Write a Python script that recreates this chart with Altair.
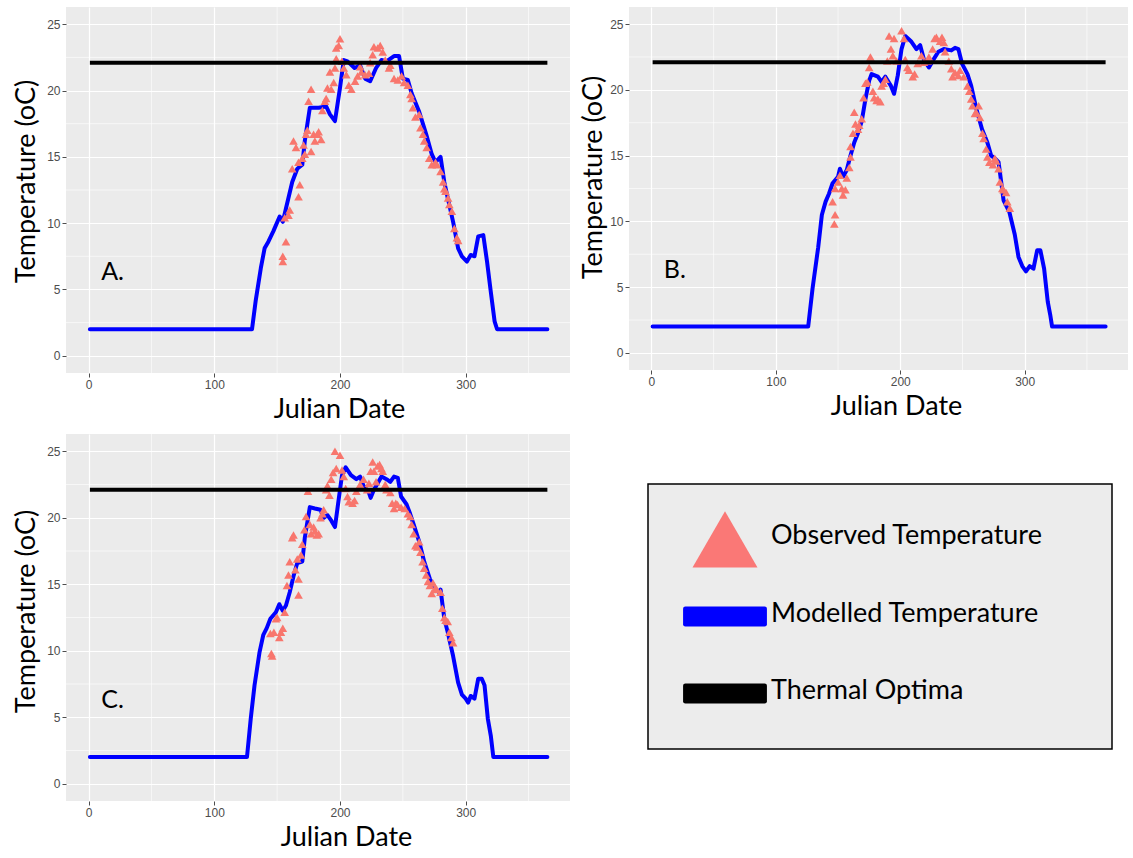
import altair as alt
import pandas as pd

# ---------------- data ----------------
# Modelled temperature (day, degC) vertices for each panel
A_MODEL = [(1, 2.0), (130, 2.0), (133, 4.2), (137, 6.6), (140, 8.1), (143, 8.6), (147, 9.4),
           (152, 10.5), (154.5, 10.1), (157, 11.1), (162, 13.1), (166, 14.1), (170, 14.4),
           (172, 16.2), (176, 18.7), (183, 18.7), (189, 18.8), (192, 18.2), (196, 17.7),
           (200, 20.2), (203, 22.3), (206, 22.2), (211.6, 21.7), (216, 21.9), (220, 20.9),
           (224, 20.7), (228.7, 21.7), (233, 22.3), (237, 22.2), (243, 22.6), (247, 22.6),
           (250, 20.9), (254, 20.8), (257, 19.8), (263, 18.4), (268.6, 16.7), (273, 15.2),
           (276, 14.6), (280, 15.0), (283, 13.1), (285.7, 11.9), (290, 10.1), (294, 8.1),
           (297, 7.5), (301, 7.1), (304, 7.6), (307, 7.5), (310, 9.0), (314, 9.1), (317, 7.1),
           (320, 4.8), (323, 2.6), (325, 2.0), (365, 2.0)]
B_MODEL = [(1, 2.0), (126, 2.0), (129.5, 4.9), (134, 8.0), (137, 10.5), (140, 11.5), (142.7, 12.1),
           (145.6, 12.9), (150, 13.4), (151.5, 14.0), (154, 13.4), (157, 13.9), (160, 15.0),
           (163, 16.0), (166, 16.7), (169, 17.6), (172, 19.3), (175, 20.7), (177, 21.2),
           (182, 21.0), (185, 20.6), (188, 21.0), (192.5, 20.3), (195, 19.7), (198, 21.1),
           (201, 23.1), (204, 24.1), (208.6, 23.7), (213, 23.1), (216, 23.4), (219, 22.3),
           (223, 21.7), (226, 22.2), (230.6, 22.9), (235, 23.1), (241, 23.0), (244, 23.2),
           (246.7, 23.1), (249.6, 22.0), (254, 21.2), (257, 20.3), (261, 18.6), (265.7, 17.0),
           (270, 16.0), (273, 15.0), (276, 14.8), (279, 14.5), (280, 13.8), (283, 11.6),
           (287.7, 10.7), (292, 9.0), (295, 7.3), (298, 6.6), (301, 6.2), (304, 6.6), (307, 6.4),
           (310, 7.8), (312.6, 7.8), (315.6, 6.4), (318.5, 3.9), (320.5, 2.9), (322, 2.0), (365, 2.0)]
C_MODEL = [(1, 2.0), (126, 2.0), (129, 4.9), (132, 7.4), (136, 9.9), (139, 11.2), (141.7, 11.7),
           (144.6, 12.4), (149, 12.9), (151.7, 13.5), (154.5, 13.0), (157, 13.4), (160, 14.4),
           (163, 15.6), (166, 16.6), (170, 16.7), (172, 18.5), (176, 20.8), (180, 20.7),
           (184.5, 20.6), (187, 20.0), (190, 20.2), (193, 19.8), (196, 19.3), (198.7, 21.2),
           (201.6, 23.2), (204.5, 23.8), (208.7, 23.2), (213, 22.9), (216, 23.1), (218.7, 22.4),
           (223, 21.9), (224.4, 21.5), (227, 22.1), (230, 22.6), (233, 23.1), (237, 22.9),
           (240, 22.7), (243, 23.1), (246, 23.0), (248.6, 21.6), (253, 21.0), (255.8, 20.3),
           (258.6, 19.5), (263, 18.2), (267, 16.7), (271.5, 15.4), (275.7, 14.7), (278.6, 14.4),
           (280, 14.6), (283, 12.4), (285.7, 11.4), (290, 9.6), (294, 7.6), (297, 6.7), (300, 6.4),
           (302, 6.1), (304, 6.6), (307, 6.4), (310, 7.9), (312.8, 7.9), (315, 7.4), (317.6, 4.9),
           (320, 3.6), (322, 2.0), (365, 2.0)]

# Observed temperature (day, degC)
A_OBS = [(154.5, 7.1), (154.5, 7.5), (157, 8.6), (156, 10.4), (159, 10.6), (160, 11.0), (162, 14.1),
         (163, 16.2), (165, 15.7), (167, 12.0), (168, 12.9), (167, 14.6), (170, 14.9), (171, 15.9),
         (172, 15.2), (173, 16.7), (174, 17.0), (175, 19.2), (177, 20.1), (177, 15.4), (179, 16.7),
         (180, 16.2), (182, 16.7), (183, 16.9), (185, 16.3), (186, 18.5), (188, 19.2), (189, 19.4),
         (190, 20.2), (192, 21.4), (193, 20.1), (195, 20.6), (196, 21.7), (197, 22.4), (197, 23.2),
         (199, 23.4), (200, 23.9), (201.5, 22.2), (203, 21.7), (205, 21.2), (207, 20.4), (209, 20.1),
         (212, 20.7), (214, 21.1), (216, 21.8), (217, 21.4), (220, 21.2), (223, 21.3), (224, 22.1),
         (226, 22.7), (227, 23.3), (230, 23.2), (232, 23.4), (234, 22.9), (236, 22.3), (239, 21.7),
         (240, 21.9), (243, 20.9), (246, 20.8), (249, 21.1), (251, 20.6), (254, 20.4), (256, 19.7),
         (257, 19.4), (258, 18.7), (260, 18.0), (263, 18.2), (264, 17.2), (266, 16.7), (267, 16.2),
         (269, 15.7), (271, 14.9), (273, 14.4), (276, 14.6), (277, 14.4), (280, 13.9), (282, 13.1),
         (283, 12.6), (284, 12.4), (286, 11.9), (287, 11.4), (289, 10.9), (291, 9.6), (293, 8.9),
         (294, 8.7)]
B_OBS = [(147, 9.8), (147.6, 10.5), (145.6, 11.5), (147.6, 12.5), (150, 13.0), (151.5, 13.5),
         (153, 12.5), (154, 12.0), (155.9, 12.4), (157, 13.3), (159, 14.1), (160, 14.9), (160, 15.7),
         (162, 16.7), (163, 18.3), (164, 17.4), (166, 17.0), (167, 17.3), (169, 17.8), (170.5, 19.4),
         (172, 20.5), (173.5, 20.6), (175, 21.7), (176, 22.5), (178, 19.9), (179, 19.4), (181, 19.2),
         (182, 19.3), (184, 19.1), (185, 20.3), (186.6, 20.5), (188, 20.8), (189.6, 22.2), (191, 24.1),
         (192.5, 23.1), (194, 22.6), (195, 23.9), (197, 22.2), (201, 24.5), (203, 23.9), (204, 22.3),
         (205.7, 21.7), (207, 21.5), (210, 21.0), (211.5, 21.2), (214, 22.0), (217, 22.6), (219, 22.1),
         (222, 22.2), (223, 22.5), (226, 23.1), (227.6, 23.9), (229, 24.0), (232, 23.7), (233.5, 24.0),
         (235, 23.6), (236, 22.9), (239, 22.2), (241, 21.6), (242, 21.0), (244, 21.3), (246.7, 21.1),
         (248, 21.5), (251, 21.0), (254, 20.3), (255.5, 19.9), (257, 19.3), (258, 18.8), (260, 18.2),
         (261, 18.3), (263, 18.8), (264, 17.9), (266, 16.7), (267, 16.3), (269, 15.5), (270, 14.9),
         (271.6, 14.5), (274.5, 14.3), (276, 14.8), (277, 14.6), (279, 14.0), (280, 13.0), (282, 12.5),
         (283, 12.4), (285, 12.2), (286, 11.5), (288, 11.0)]
C_OBS = [(146, 9.6), (145.4, 9.8), (144.6, 11.3), (147.4, 11.4), (149, 12.4), (150, 12.5), (151.7, 11.0),
         (153, 11.4), (154.5, 11.7), (156, 12.9), (157.8, 14.9), (159, 15.7), (160, 16.7), (162, 18.5),
         (163, 18.7), (164.5, 16.1), (166, 16.9), (167, 15.4), (167, 14.2), (169, 17.2), (170, 18.0),
         (171.7, 19.1), (173, 20.1), (174.5, 22.0), (176, 19.5), (177, 18.8), (179, 19.3), (180, 19.0),
         (181.6, 18.7), (183, 18.8), (184.5, 20.0), (186, 20.3), (187, 20.6), (189, 22.1), (190, 22.4),
         (191.6, 21.7), (193, 22.9), (194.5, 23.4), (196, 25.0), (197, 23.7), (200, 24.7), (201.6, 23.6),
         (203, 23.1), (204.5, 22.2), (206, 21.6), (207, 21.2), (210, 21.1), (211.6, 21.3), (213, 22.0),
         (216, 22.5), (218.7, 22.9), (221.6, 22.1), (223, 22.6), (224.4, 23.5), (226, 24.2), (227, 23.5),
         (228.7, 22.7), (230, 23.9), (231.5, 24.0), (233, 23.7), (234, 23.5), (236, 22.5), (237, 22.1),
         (240, 21.9), (241.5, 21.1), (243, 20.7), (244.4, 21.1), (245.8, 21.0), (248.6, 20.8),
         (251.5, 20.7), (254, 20.3), (255.8, 20.1), (257, 19.5), (258.6, 18.8), (260, 17.9), (261.5, 17.8),
         (263, 18.2), (264, 17.4), (265.7, 16.7), (267, 16.2), (268.6, 15.7), (270, 15.2), (271.5, 14.9),
         (273, 14.3), (274, 15.1), (275.7, 14.7), (277, 14.6), (280, 14.4), (281.4, 13.2), (283, 12.5),
         (284, 12.3), (285.7, 12.2), (287, 11.4), (288.6, 11.0), (290, 10.6)]

THERMAL_OPTIMA = 22.1
OPTIMA_DAYS = (1, 365)
PANEL_LABELS = ["A.", "B.", "C."]
X_TICKS = [0, 100, 200, 300]
X_MINOR = [50, 150, 250, 350]
Y_TICKS = [0, 5, 10, 15, 20, 25]
Y_MINOR = [2.5, 7.5, 12.5, 17.5, 22.5]
LEGEND_LABELS = ["Observed Temperature", "Modelled Temperature", "Thermal Optima"]

# ---------------- styling ----------------
OBS_COLOR = "#F8766D"
MODEL_COLOR = "#0000FF"
OPT_COLOR = "#000000"
PANEL_BG = "#EBEBEB"
X_DOMAIN = [-18, 383]
Y_DOMAIN = [-1.3, 26.3]
TITLE_FONT = "Lato"
Y_TITLE = "Temperature (oC)"
X_TITLE = "Julian Date"


def panel(model, obs, label, width, height, xtitle_x, ytitle_y, ytitle_pad):
    xs = alt.Scale(domain=X_DOMAIN, nice=False, zero=False)
    ys = alt.Scale(domain=Y_DOMAIN, nice=False, zero=False)
    xaxis = alt.Axis(values=X_TICKS, title=X_TITLE, format="d", titleX=xtitle_x)
    yaxis = alt.Axis(values=Y_TICKS, title=Y_TITLE, format="d", titleY=ytitle_y,
                     titlePadding=ytitle_pad)

    mdf = pd.DataFrame(model, columns=["day", "temp"])
    odf = pd.DataFrame(obs, columns=["day", "temp"])
    opt = pd.DataFrame({"d0": [OPTIMA_DAYS[0]], "d1": [OPTIMA_DAYS[1]], "t": [THERMAL_OPTIMA]})
    lab = pd.DataFrame({"day": [10], "temp": [6.3], "label": [label]})

    minor_x = alt.Chart(pd.DataFrame({"v": X_MINOR})).mark_rule(
        color="white", strokeWidth=0.6).encode(x=alt.X("v:Q", scale=xs, axis=xaxis))
    minor_y = alt.Chart(pd.DataFrame({"v": Y_MINOR})).mark_rule(
        color="white", strokeWidth=0.6).encode(y=alt.Y("v:Q", scale=ys, axis=yaxis))
    line = alt.Chart(mdf).mark_line(color=MODEL_COLOR, strokeWidth=4,
                                    strokeJoin="round", strokeCap="round").encode(
        x=alt.X("day:Q", scale=xs, axis=xaxis), y=alt.Y("temp:Q", scale=ys, axis=yaxis))
    pts = alt.Chart(odf).mark_point(shape="triangle-up", filled=True, opacity=1,
                                    color=OBS_COLOR, size=75).encode(
        x=alt.X("day:Q", scale=xs, axis=xaxis), y=alt.Y("temp:Q", scale=ys, axis=yaxis))
    hline = alt.Chart(opt).mark_rule(color=OPT_COLOR, strokeWidth=4).encode(
        x=alt.X("d0:Q", scale=xs, axis=xaxis), x2="d1:Q",
        y=alt.Y("t:Q", scale=ys, axis=yaxis))
    txt = alt.Chart(lab).mark_text(align="left", baseline="middle", font=TITLE_FONT,
                                   fontSize=25, color="black").encode(
        x=alt.X("day:Q", scale=xs, axis=xaxis), y=alt.Y("temp:Q", scale=ys, axis=yaxis),
        text="label:N")
    return alt.layer(minor_x, minor_y, line, pts, hline, txt).properties(
        width=width, height=height,
        view=alt.ViewBackground(fill=PANEL_BG, stroke=None))


pa = panel(A_MODEL, A_OBS, PANEL_LABELS[0], 504, 366, 273, 174, 6)
pb = panel(B_MODEL, B_OBS, PANEL_LABELS[1], 499, 363, 267, 170, 2)
pc = panel(C_MODEL, C_OBS, PANEL_LABELS[2], 504, 367, 280, 177, 6)

# ---------------- hand-made legend box ----------------
BAR_PATH = ("M-1.22,-0.31H1.22Q1.29,-0.31 1.29,-0.24V0.24Q1.29,0.31 1.22,0.31"
            "H-1.22Q-1.29,0.31 -1.29,0.24V-0.24Q-1.29,-0.31 -1.22,-0.31Z")
ldf = pd.DataFrame({"label": LEGEND_LABELS})
ly = alt.Y("label:N", scale=alt.Scale(type="point", domain=LEGEND_LABELS, padding=0.72), axis=None)
sym = alt.Chart(ldf).mark_point(filled=True, opacity=1, size=4225).encode(
    x=alt.value(77), y=ly,
    shape=alt.Shape("label:N", scale=alt.Scale(domain=LEGEND_LABELS,
                                               range=["triangle-up", BAR_PATH, BAR_PATH]), legend=None),
    color=alt.Color("label:N", scale=alt.Scale(domain=LEGEND_LABELS,
                                               range=["#FA7876", MODEL_COLOR, OPT_COLOR]), legend=None))
ltxt = alt.Chart(ldf).mark_text(align="left", baseline="middle", font=TITLE_FONT,
                                fontSize=27, dy=-3, color="black").encode(
    x=alt.value(123), y=ly, text="label:N")
legend_box = alt.layer(sym, ltxt).properties(
    width=464, height=265,
    view=alt.ViewBackground(fill="#ECECEC", stroke="black", strokeWidth=1.5))

# invisible spacer that pushes the legend box down inside its column
spacer = alt.Chart(ldf).mark_point(opacity=0).encode(
    x=alt.value(0), y=alt.value(0)).properties(
    width=464, height=49, view=alt.ViewBackground(fill=None, stroke=None))

top = alt.hconcat(pa, pb, spacing=8)
bottom = alt.hconcat(pc, alt.vconcat(spacer, legend_box, spacing=0), spacing=74)
chart = alt.vconcat(top, bottom, spacing=9).properties(
    padding={"left": 12, "top": 6, "right": 0, "bottom": 0},
    background="white",
).configure_view(stroke=None).configure_axis(
    labelFont="Liberation Sans", labelFontSize=12, labelColor="#4D4D4D",
    tickColor="#4D4D4D", tickSize=4, labelPadding=2,
    titleFont=TITLE_FONT, titleFontSize=27, titleFontWeight="normal", titleColor="black",
    grid=True, gridColor="white", gridWidth=1.2, domain=False,
).configure_axisX(titlePadding=6)

chart.save("out.html", embed_options={"renderer": "svg", "actions": False})
